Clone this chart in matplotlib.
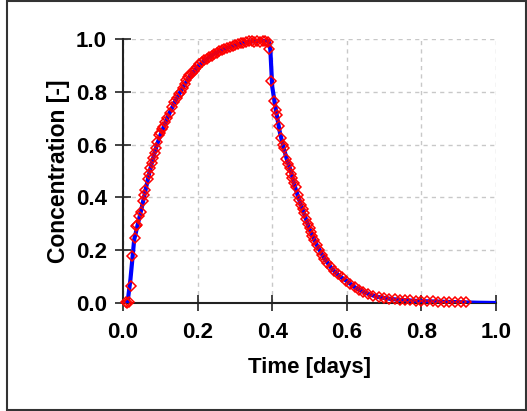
import numpy as np
import matplotlib.pyplot as plt
from matplotlib.patches import Rectangle

# model curve (blue line)
t_model = [0.0, 0.012, 0.02, 0.03, 0.04, 0.05, 0.06, 0.07, 0.08, 0.09, 0.10,
           0.12, 0.14, 0.16, 0.18, 0.20, 0.22, 0.24, 0.26, 0.28, 0.30, 0.32,
           0.34, 0.36, 0.38, 0.39, 0.395, 0.40, 0.41, 0.42, 0.43, 0.44, 0.45,
           0.46, 0.47, 0.48, 0.49, 0.50, 0.52, 0.54, 0.56, 0.58, 0.60, 0.62,
           0.64, 0.66, 0.68, 0.70, 0.72, 0.75, 0.80, 0.85, 0.90, 0.95, 1.0]
c_model = [0.0, 0.0, 0.09, 0.24, 0.30, 0.36, 0.425, 0.49, 0.545, 0.595, 0.635,
           0.705, 0.765, 0.815, 0.86, 0.895, 0.92, 0.94, 0.955, 0.967, 0.976, 0.984,
           0.99, 0.993, 0.994, 0.994, 0.96, 0.82, 0.73, 0.65, 0.59, 0.54, 0.50,
           0.445, 0.40, 0.36, 0.32, 0.28, 0.218, 0.168, 0.13, 0.102, 0.083, 0.061,
           0.045, 0.033, 0.024, 0.019, 0.015, 0.011, 0.007, 0.005, 0.003, 0.001, 0.0]

# observations (red diamonds)
t_obs = [0.008, 0.012, 0.016, 0.021, 0.024, 0.031, 0.035, 0.038, 0.044, 0.048,
         0.053, 0.057, 0.060, 0.066, 0.070, 0.073, 0.077, 0.081, 0.085, 0.088,
         0.092, 0.096, 0.100, 0.104, 0.108, 0.113, 0.119, 0.125, 0.132, 0.138,
         0.144, 0.150, 0.155, 0.160, 0.165, 0.170, 0.174, 0.178, 0.184, 0.189,
         0.193, 0.199, 0.205, 0.211, 0.218, 0.225, 0.231, 0.238, 0.245, 0.252,
         0.258, 0.265, 0.272, 0.279, 0.286, 0.294, 0.301, 0.308, 0.315, 0.322,
         0.330, 0.337, 0.345, 0.352, 0.360, 0.367, 0.375, 0.382, 0.388, 0.391,
         0.397, 0.405, 0.409, 0.412, 0.418, 0.423, 0.428, 0.432, 0.438, 0.443,
         0.447, 0.451, 0.454, 0.459, 0.463, 0.468, 0.473, 0.477, 0.482, 0.486,
         0.490, 0.495, 0.500, 0.504, 0.508, 0.513, 0.519, 0.526, 0.533, 0.540,
         0.548, 0.558, 0.566, 0.576, 0.587, 0.598, 0.609, 0.621, 0.632, 0.643,
         0.656, 0.670, 0.686, 0.700, 0.714, 0.728, 0.742, 0.756, 0.770, 0.785,
         0.800, 0.815, 0.830, 0.845, 0.860, 0.875, 0.890, 0.905, 0.920]
c_obs = [0.005, 0.0, 0.003, 0.066, 0.178, 0.248, 0.29, 0.297, 0.33, 0.346,
         0.386, 0.41, 0.428, 0.469, 0.49, 0.511, 0.53, 0.549, 0.57, 0.587,
         0.61, 0.635, 0.645, 0.66, 0.666, 0.685, 0.701, 0.72, 0.742, 0.76,
         0.778, 0.79, 0.80, 0.813, 0.83, 0.845, 0.856, 0.862, 0.872, 0.88,
         0.886, 0.895, 0.905, 0.914, 0.92, 0.926, 0.932, 0.936, 0.943, 0.948,
         0.953, 0.958, 0.962, 0.966, 0.970, 0.974, 0.977, 0.980, 0.984, 0.986,
         0.989, 0.991, 0.992, 0.990, 0.993, 0.989, 0.992, 0.994, 0.990, 0.962,
         0.841, 0.767, 0.73, 0.714, 0.670, 0.625, 0.60, 0.587, 0.545, 0.525,
         0.511, 0.49, 0.473, 0.455, 0.441, 0.409, 0.39, 0.371, 0.355, 0.339,
         0.32, 0.301, 0.285, 0.269, 0.252, 0.238, 0.218, 0.199, 0.183, 0.168,
         0.152, 0.136, 0.122, 0.111, 0.097, 0.085, 0.072, 0.060, 0.051, 0.043,
         0.035, 0.028, 0.022, 0.019, 0.016, 0.014, 0.012, 0.011, 0.010, 0.009,
         0.008, 0.007, 0.006, 0.005, 0.005, 0.004, 0.004, 0.003, 0.003]

ticks = [0.0, 0.2, 0.4, 0.6, 0.8, 1.0]

plt.rcParams['font.family'] = ['Liberation Sans', 'DejaVu Sans']
plt.rcParams['font.weight'] = 'bold'

fig = plt.figure(figsize=(5.27, 4.11), dpi=100)
fig.patches.append(Rectangle((0.013, 0.003), 0.985, 0.994, transform=fig.transFigure,
                             fill=False, edgecolor='#333333', linewidth=1.5))
ax = fig.add_axes([0.2334, 0.2628, 0.7078, 0.6423])

ax.plot(t_model, c_model, color='#0000ff', linewidth=3.0, zorder=3)
ax.plot(t_obs, c_obs, linestyle='none', marker='D', markersize=5.5,
        markerfacecolor='none', markeredgecolor='#ff0000', markeredgewidth=1.1,
        zorder=4, clip_on=False)

ax.set_xlim(0, 1)
ax.set_ylim(0, 1)
ax.set_xticks(ticks)
ax.set_yticks(ticks)
ax.set_xticklabels(['%.1f' % v for v in ticks])
ax.set_yticklabels(['%.1f' % v for v in ticks])
ax.tick_params(direction='inout', length=11, width=1.2, labelsize=16, color='#222222')
ax.tick_params(axis='x', pad=8)
ax.tick_params(axis='y', pad=6)
ax.grid(True, color='#c8c8c8', linestyle=(0, (3, 3)), linewidth=1.0)
ax.set_axisbelow(True)
for s in ['top', 'right']:
    ax.spines[s].set_visible(False)
for s in ['left', 'bottom']:
    ax.spines[s].set_linewidth(1.5)
    ax.spines[s].set_color('#222222')
    ax.spines[s].set_zorder(2)

ax.set_xlabel('Time [days]', fontsize=16, fontweight='bold', labelpad=10)
ax.set_ylabel('Concentration [-]', fontsize=16.5, fontweight='bold', labelpad=4)

fig.savefig('out.png', dpi=100)
